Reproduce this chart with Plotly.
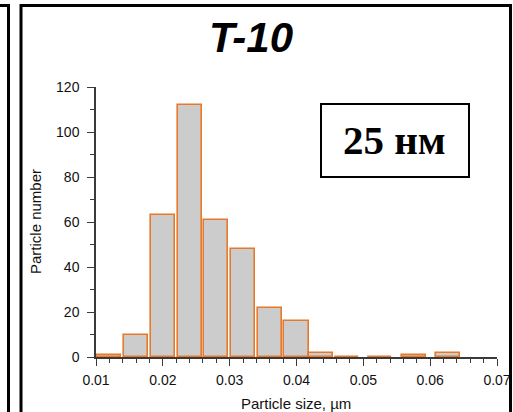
import plotly.graph_objects as go

# ---- data ----
bin_centers = [0.012, 0.016, 0.020, 0.024, 0.028, 0.032, 0.036, 0.040, 0.0436, 0.0475, 0.0525, 0.0576, 0.0627]
counts = [1, 10, 63, 112, 61, 48, 22, 16, 2, 0, 0, 1, 2]
x_tick_vals = [0.01, 0.02, 0.03, 0.04, 0.05, 0.06, 0.07]
x_tick_text = ["0.01", "0.02", "0.03", "0.04", "0.05", "0.06", "0.07"]
y_tick_vals = [0, 20, 40, 60, 80, 100, 120]
y_tick_text = ["0", "20", "40", "60", "80", "100", "120"]
title_text = "T-10"
label_text = "25 нм"
x_title = "Particle size, µm"
y_title = "Particle number"

# ---- layout geometry (pixels) ----
W, H = 513, 412
L, R, T, B = 96, 16, 87, 55
PW = W - L - R
PH = H - T - B


def px(x):
    return (x - L) / PW


def py(y):
    return (H - B - y) / PH


sans = "Liberation Sans, Arial, sans-serif"

fig = go.Figure()
fig.add_trace(go.Bar(
    x=bin_centers, y=counts, width=0.0036,
    marker=dict(color="#CCCCCC", line=dict(color="#E8782A", width=1.6)),
    showlegend=False, hoverinfo="skip",
))

axis_common = dict(
    showgrid=False, zeroline=False, showline=True, linecolor="#3a3a3a", linewidth=1.5,
    ticks="outside", tickcolor="#3a3a3a", tickwidth=1.3, ticklen=7,
    tickfont=dict(family=sans, size=14, color="#111111"),
    automargin=False,
)

fig.update_layout(
    width=W, height=H,
    margin=dict(l=L, r=R, t=T, b=B, pad=0, autoexpand=False),
    paper_bgcolor="white", plot_bgcolor="white",
    bargap=0,
    xaxis=dict(range=[0.01, 0.07], tickvals=x_tick_vals, ticktext=x_tick_text,
               ticklabelstandoff=2,
               minor=dict(dtick=0.002, tick0=0.01, ticks="outside", ticklen=4,
                          tickcolor="#3a3a3a", tickwidth=1.2),
               **axis_common),
    yaxis=dict(range=[0, 120], tickvals=y_tick_vals, ticktext=y_tick_text,
               ticklabelstandoff=5,
               minor=dict(dtick=10, tick0=0, ticks="outside", ticklen=4,
                          tickcolor="#3a3a3a", tickwidth=1.2),
               **axis_common),
)

shapes = []
# left fragment of neighbouring panel
shapes.append(dict(type="path", xref="paper", yref="paper",
                   path=f"M {px(-2)} {py(5.5)} L {px(8.5)} {py(5.5)} L {px(8.5)} {py(420)}",
                   line=dict(color="black", width=3), layer="above"))
# main frame
shapes.append(dict(type="path", xref="paper", yref="paper",
                   path=f"M {px(21)} {py(420)} L {px(21)} {py(5.5)} L {px(510.5)} {py(5.5)} L {px(510.5)} {py(420)}",
                   line=dict(color="black", width=3), layer="above"))
# label box
shapes.append(dict(type="rect", xref="paper", yref="paper",
                   x0=px(321), x1=px(469), y0=py(104), y1=py(177),
                   line=dict(color="black", width=2), fillcolor="white", layer="above"))
fig.update_layout(shapes=shapes)

annotations = [
    dict(text=f"<b><i>{title_text}</i></b>", x=px(251), y=py(38), xref="paper", yref="paper",
         showarrow=False, xanchor="center", yanchor="middle",
         font=dict(family=sans, size=42, color="black")),
    dict(text=f"<b>{label_text}</b>", x=px(394), y=py(140), xref="paper", yref="paper",
         showarrow=False, xanchor="center", yanchor="middle",
         font=dict(family="Liberation Serif, Times New Roman, serif", size=41, color="black")),
    dict(text=x_title, x=px(296), y=py(403), xref="paper", yref="paper",
         showarrow=False, xanchor="center", yanchor="middle",
         font=dict(family=sans, size=15, color="#111111")),
    dict(text=y_title, x=px(35), y=py(222), xref="paper", yref="paper",
         showarrow=False, xanchor="center", yanchor="middle", textangle=-90,
         font=dict(family=sans, size=15, color="#111111")),
]
fig.update_layout(annotations=annotations)

fig.write_html(
    "out.html", config={"displayModeBar": False},
    post_script=(
        "document.body.style.margin='0px';document.body.style.padding='0px';"
        "document.body.style.overflow='hidden';document.documentElement.style.overflow='hidden';"
    ),
)
